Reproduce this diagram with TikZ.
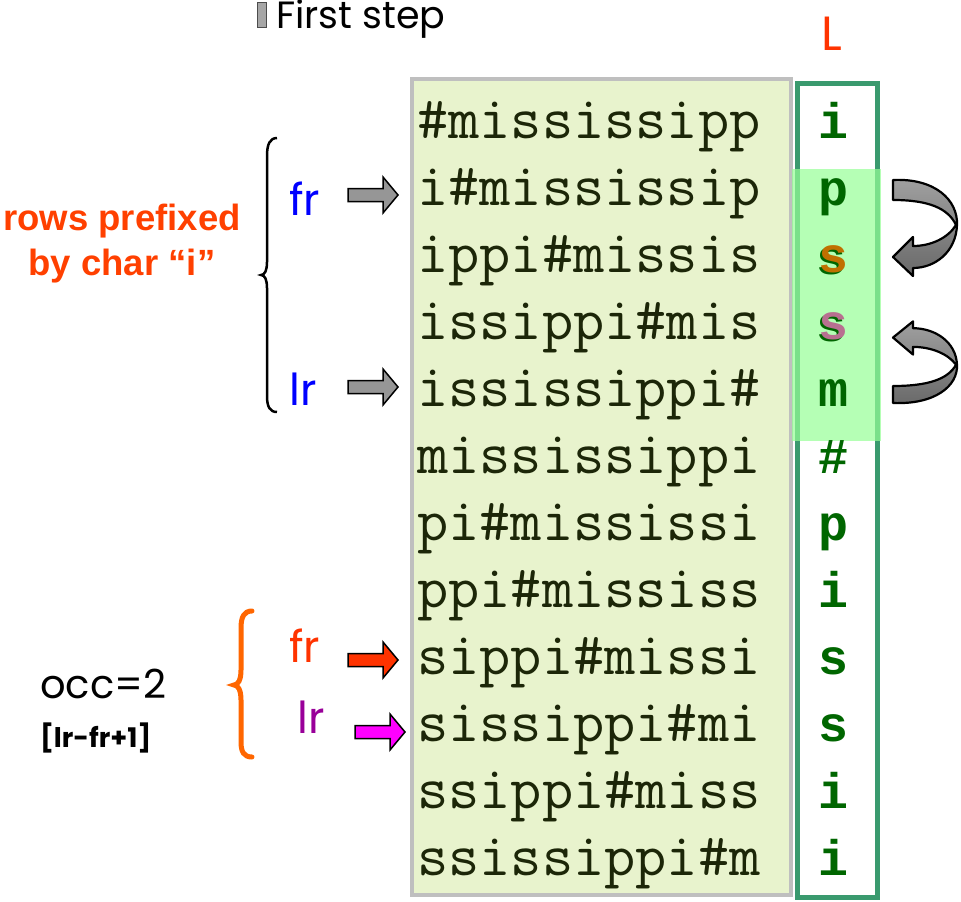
\documentclass[tikz,border=0pt]{standalone}
\usepackage{fontspec}
\setmainfont{Liberation Sans}
\newfontfamily\monofont{Liberation Mono}
\newfontfamily\handfont{Poppins}

\definecolor{rowfill}{RGB}{232,243,205}
\definecolor{rowframe}{RGB}{191,191,191}
\definecolor{rowink}{RGB}{28,38,8}
\definecolor{lframe}{RGB}{58,154,110}
\definecolor{lgreen}{RGB}{0,102,0}
\definecolor{hilite}{RGB}{150,255,150}
\definecolor{sorange}{RGB}{192,112,0}
\definecolor{smauve}{RGB}{184,112,144}
\definecolor{hotred}{RGB}{255,64,0}
\definecolor{frred}{RGB}{255,51,0}
\definecolor{lrpurple}{RGB}{153,0,153}
\definecolor{arrmagenta}{RGB}{255,0,255}
\definecolor{braceorange}{RGB}{255,102,0}
\definecolor{arrgray}{RGB}{150,150,150}
\definecolor{curltop}{RGB}{160,160,160}
\definecolor{curlbot}{RGB}{105,105,105}

\begin{document}
\begin{tikzpicture}[x=1pt,y=-1pt,
  rowtext/.style={anchor=base west, inner sep=0pt, text=rowink,
    font=\ttfamily\fontsize{60.6}{60.6}\selectfont},
  lchar/.style={anchor=base, inner sep=0pt, text=lgreen,
    font=\monofont\bfseries\fontsize{50}{50}\selectfont},
  hand/.style={inner sep=0pt, font=\handfont\fontsize{#1}{#1}\selectfont},
  handbold/.style={inner sep=0pt, font=\handfont\bfseries\fontsize{#1}{#1}\selectfont},
  blockarr/.pic={
    \path[pic actions] (0,-6.5) -- (35,-6.5) -- (35,-18) -- (50,0)
      -- (35,18) -- (35,6.5) -- (0,6.5) -- cycle;},
  curlarr/.pic={
    \path[pic actions] (0,0) .. controls (42,-2) and (65,20) .. (64,45)
      .. controls (63,72) and (42,88) .. (20,88) -- (20,96) -- (0,77)
      -- (20,57) -- (20,66) .. controls (38,66) and (55,58) .. (63,45)
      .. controls (55,28) and (35,20) .. (0,20) -- cycle;},
  blockstyle/.style={draw=black, line width=1.5pt, line join=miter},
  curlstyle/.style={draw=black, line width=2.2pt, line join=round,
    top color=curltop, bottom color=curlbot}
]
\useasboundingbox (0,0) rectangle (961,902);

% sorted rotations and the last column
\draw[rowframe, line width=4pt, fill=rowfill] (412,78.5) rectangle (790.5,895);
\draw[lframe, line width=5pt] (797.5,83.5) rectangle (877.5,897);
\fill[hilite, fill opacity=0.7] (792,169) rectangle (881,441);

\foreach \k/\txt in {1/\#mississipp, 2/i\#mississip, 3/ippi\#missis,
    4/issippi\#mis, 5/ississippi\#, 6/mississippi, 7/pi\#mississi,
    8/ppi\#mississ, 9/sippi\#missi, 10/sissippi\#mi, 11/ssippi\#miss,
    12/ssissippi\#m}
  \node[rowtext] (row\k) at (417,{138+67*(\k-1)}) {\txt};

\foreach \k/\ch in {1/i, 2/p, 5/m, 6/\#, 7/p, 8/i, 9/s, 10/s, 11/i, 12/i}
  \node[lchar] (lc\k) at (833,{138+67*(\k-1)}) {\ch};
\node[lchar] (lc3shadow) at (831,274) {s};
\node[lchar, text=sorange] (lc3) at (833,272) {s};
\node[lchar] (lc4shadow) at (831,341) {s};
\node[lchar, text=smauve] (lc4) at (833,339) {s};

\node[hand=48, text=frred, anchor=base] (lhead) at (832,50) {L};

% heading
\draw[black!70, fill=gray!70, line width=1pt] (257,2) rectangle (266,27);
\node[hand=38, anchor=base west] (title) at (276,28) {First step};

% range of rows starting with i
\node[font=\bfseries\fontsize{36.5}{36.5}\selectfont, text=hotred, inner sep=0pt,
  anchor=base] (pref1) at (122,230) {rows prefixed};
\node[font=\bfseries\fontsize{36.5}{36.5}\selectfont, text=hotred, inner sep=0pt,
  anchor=base] (pref2) at (122,275) {by char “i”};
\draw[black, line width=2.5pt] (277,138) .. controls (270,138) and (267,144) .. (267,156)
  -- (267,262) .. controls (267,270) and (265,275) .. (261,275)
  .. controls (265,275) and (267,280) .. (267,288) -- (267,396)
  .. controls (267,407) and (270,412) .. (277,412);
\node[hand=44, text=blue, anchor=base west] (fr1) at (289,215) {fr};
\node[hand=44, text=blue, anchor=base west] (lr1) at (289,405) {lr};
\pic[blockstyle, fill=arrgray] at (348,195) {blockarr};
\pic[blockstyle, fill=arrgray] at (348,387) {blockarr};

% range after the step
\node[hand=40, anchor=base west] (occ) at (40,698) {occ=2};
\node[handbold=27, anchor=base west] (occf) at (40,747) {[lr-fr+1]};
\draw[braceorange, line width=5pt, line cap=round] (252,611)
  .. controls (244,611) and (241,617) .. (241,628) -- (241,670)
  .. controls (241,680) and (238,685) .. (234,685)
  .. controls (238,685) and (241,690) .. (241,700) -- (241,742)
  .. controls (241,752) and (244,757) .. (252,757);
\node[hand=44, text=frred, anchor=base west] (fr2) at (289,662) {fr};
\node[hand=44, text=lrpurple, anchor=base west] (lr2) at (297,733) {lr};
\pic[blockstyle, fill=frred] at (348,660) {blockarr};
\pic[blockstyle, fill=arrmagenta] at (355,732) {blockarr};

% LF jumps
\pic[curlstyle] at (893,180) {curlarr};
\pic[curlstyle, yscale=-0.85] at (893,403) {curlarr};
\end{tikzpicture}
\end{document}
